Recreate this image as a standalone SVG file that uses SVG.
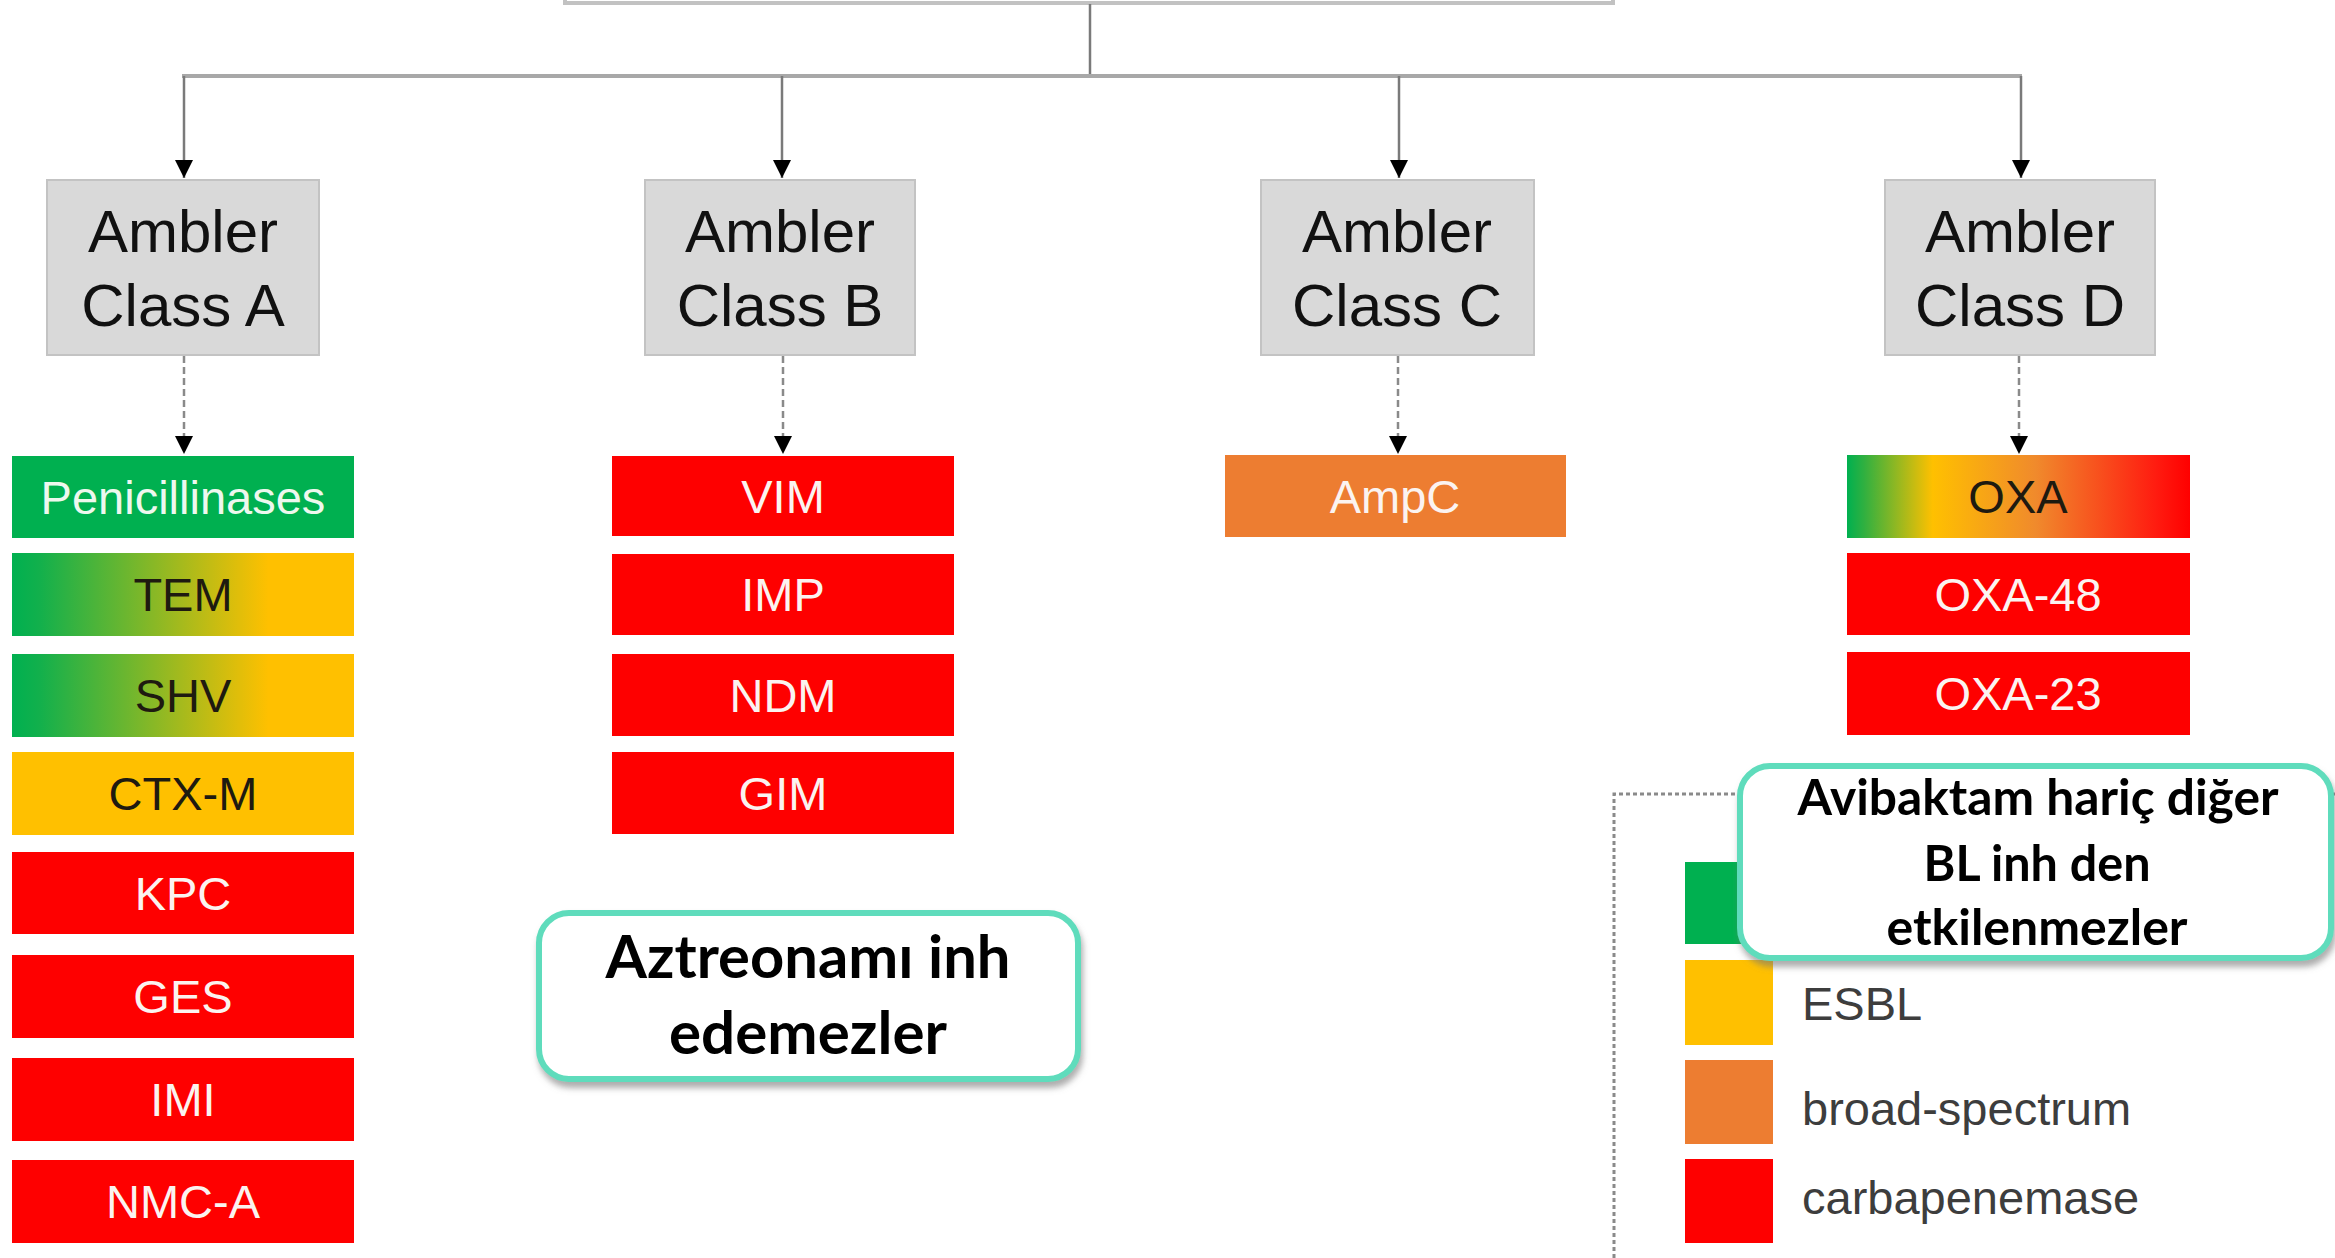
<svg xmlns="http://www.w3.org/2000/svg" width="2335" height="1258" viewBox="0 0 2335 1258">
<defs>
<style>
.amb{fill:#d9d9d9;stroke:#c3c3c3;stroke-width:2}
.ambt{font-family:"Liberation Sans",Arial,sans-serif;font-size:60px;fill:#111;text-anchor:middle}
.row{font-family:"Liberation Sans",Arial,sans-serif;font-size:47px;text-anchor:middle}
.w{fill:#fbf3f0}
.k{fill:#1e1a10}
.red{fill:#fe0000}
.grn{fill:#00b050}
.yel{fill:#ffc000}
.org{fill:#ed7d31}
.leg{font-family:"Liberation Sans",Arial,sans-serif;font-size:47px;fill:#3d3d3d}
.call{fill:#ffffff;stroke:#5fdcbc;stroke-width:6}
.callt{font-family:Lato,"Open Sans","DejaVu Sans",sans-serif;font-weight:bold;fill:#000;text-anchor:middle}
.solid{stroke:#7a7a7a;stroke-width:2.5;fill:none}
.dash{stroke:#8a8a8a;stroke-width:2.5;fill:none;stroke-dasharray:7 4}
</style>
<linearGradient id="gy" x1="0" y1="0" x2="1" y2="0">
<stop offset="0" stop-color="#00b050"/>
<stop offset="0.08" stop-color="#12b04c"/>
<stop offset="0.75" stop-color="#ffc000"/>
<stop offset="1" stop-color="#ffc000"/>
</linearGradient>
<linearGradient id="gyr" x1="0" y1="0" x2="1" y2="0">
<stop offset="0" stop-color="#00b050"/>
<stop offset="0.05" stop-color="#30b040"/>
<stop offset="0.25" stop-color="#ffc000"/>
<stop offset="0.55" stop-color="#f08a2c"/>
<stop offset="0.9" stop-color="#ff1c10"/>
<stop offset="1" stop-color="#ff0000"/>
</linearGradient>
<marker id="ah" viewBox="0 0 10 10" refX="10" refY="5" markerWidth="18" markerHeight="18" markerUnits="userSpaceOnUse" orient="auto">
<path d="M0,0 L10,5 L0,10 z" fill="#000"/>
</marker>
<filter id="sh" x="-5%" y="-10%" width="115%" height="130%">
<feDropShadow dx="2" dy="6" stdDeviation="3" flood-color="#777" flood-opacity="0.6"/>
</filter>
</defs>
<rect width="2335" height="1258" fill="#ffffff"/>

<g id="top-node">
<rect x="565" y="-30" width="1048" height="33" fill="#ffffff" stroke="#c2c2c2" stroke-width="4"/>
</g>

<g id="connectors">
<path class="solid" d="M1090,4 V76"/>
<path d="M182,76 H2022" stroke="#a8a8a8" stroke-width="4" fill="none"/>
<path class="solid" d="M184,76 V178" marker-end="url(#ah)"/>
<path class="solid" d="M782,76 V178" marker-end="url(#ah)"/>
<path class="solid" d="M1399,76 V178" marker-end="url(#ah)"/>
<path class="solid" d="M2021,76 V178" marker-end="url(#ah)"/>
<path class="dash" d="M184,356 V454" marker-end="url(#ah)"/>
<path class="dash" d="M783,356 V454" marker-end="url(#ah)"/>
<path class="dash" d="M1398,356 V454" marker-end="url(#ah)"/>
<path class="dash" d="M2019,356 V454" marker-end="url(#ah)"/>
</g>

<g id="class-a">
<rect class="amb" x="47" y="180" width="272" height="175"/>
<text class="ambt" x="183" y="252">Ambler</text>
<text class="ambt" x="183" y="326">Class A</text>
</g>
<g id="class-b">
<rect class="amb" x="645" y="180" width="270" height="175"/>
<text class="ambt" x="780" y="252">Ambler</text>
<text class="ambt" x="780" y="326">Class B</text>
</g>
<g id="class-c">
<rect class="amb" x="1261" y="180" width="273" height="175"/>
<text class="ambt" x="1397" y="252">Ambler</text>
<text class="ambt" x="1397" y="326">Class C</text>
</g>
<g id="class-d">
<rect class="amb" x="1885" y="180" width="270" height="175"/>
<text class="ambt" x="2020" y="252">Ambler</text>
<text class="ambt" x="2020" y="326">Class D</text>
</g>

<g id="penicillinases"><rect class="grn" x="12" y="456" width="342" height="82"/><text class="row" x="183" y="514" fill="#eef8ee">Penicillinases</text></g>
<g id="tem"><rect x="12" y="553" width="342" height="83" fill="url(#gy)"/><text class="row k" x="183" y="611">TEM</text></g>
<g id="shv"><rect x="12" y="654" width="342" height="83" fill="url(#gy)"/><text class="row k" x="183" y="712">SHV</text></g>
<g id="ctx-m"><rect class="yel" x="12" y="752" width="342" height="83"/><text class="row k" x="183" y="810">CTX-M</text></g>
<g id="kpc"><rect class="red" x="12" y="852" width="342" height="82"/><text class="row w" x="183" y="910">KPC</text></g>
<g id="ges"><rect class="red" x="12" y="955" width="342" height="83"/><text class="row w" x="183" y="1013">GES</text></g>
<g id="imi"><rect class="red" x="12" y="1058" width="342" height="83"/><text class="row w" x="183" y="1116">IMI</text></g>
<g id="nmc-a"><rect class="red" x="12" y="1160" width="342" height="83"/><text class="row w" x="183" y="1218">NMC-A</text></g>

<g id="vim"><rect class="red" x="612" y="456" width="342" height="80"/><text class="row w" x="783" y="513">VIM</text></g>
<g id="imp"><rect class="red" x="612" y="554" width="342" height="81"/><text class="row w" x="783" y="611">IMP</text></g>
<g id="ndm"><rect class="red" x="612" y="654" width="342" height="82"/><text class="row w" x="783" y="712">NDM</text></g>
<g id="gim"><rect class="red" x="612" y="752" width="342" height="82"/><text class="row w" x="783" y="810">GIM</text></g>

<g id="ampc"><rect class="org" x="1225" y="455" width="341" height="82"/><text class="row w" x="1395" y="513">AmpC</text></g>

<g id="oxa"><rect x="1847" y="455" width="343" height="83" fill="url(#gyr)"/><text class="row k" x="2018" y="513">OXA</text></g>
<g id="oxa-48"><rect class="red" x="1847" y="553" width="343" height="82"/><text class="row w" x="2018" y="611">OXA-48</text></g>
<g id="oxa-23"><rect class="red" x="1847" y="652" width="343" height="83"/><text class="row w" x="2018" y="710">OXA-23</text></g>

<g id="legend">
<path d="M1614,1258 V794 H2335" stroke="#8a8a8a" stroke-width="3" fill="none" stroke-dasharray="4 3"/>
<rect class="grn" x="1685" y="862" width="88" height="82"/>
<rect class="yel" x="1685" y="960" width="88" height="85"/>
<rect class="org" x="1685" y="1060" width="88" height="84"/>
<rect class="red" x="1685" y="1159" width="88" height="84"/>
<text class="leg" x="1802" y="1020">ESBL</text>
<text class="leg" x="1802" y="1125">broad-spectrum</text>
<text class="leg" x="1802" y="1214">carbapenemase</text>
</g>

<g id="callout-aztreonam">
<rect class="call" x="539" y="913" width="539" height="166" rx="30" filter="url(#sh)"/>
<text class="callt" x="808" y="978" font-size="60" textLength="405" lengthAdjust="spacingAndGlyphs">Aztreonamı inh</text>
<text class="callt" x="808" y="1054" font-size="60" textLength="278" lengthAdjust="spacingAndGlyphs">edemezler</text>
</g>

<g id="callout-avibaktam">
<rect class="call" x="1740" y="766" width="591" height="192" rx="30" filter="url(#sh)"/>
<text class="callt" x="2038" y="815" font-size="50" textLength="481" lengthAdjust="spacingAndGlyphs">Avibaktam hariç diğer</text>
<text class="callt" x="2037" y="881" font-size="50" textLength="227" lengthAdjust="spacingAndGlyphs">BL inh den</text>
<text class="callt" x="2037" y="945" font-size="50" textLength="301" lengthAdjust="spacingAndGlyphs">etkilenmezler</text>
</g>
</svg>
